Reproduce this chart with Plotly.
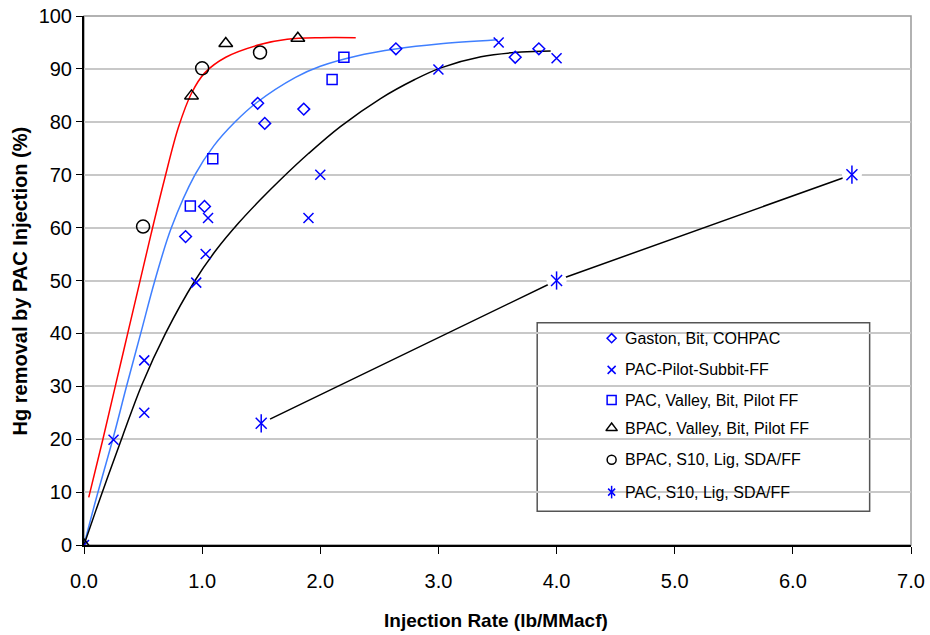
import plotly.graph_objects as go

# measured points
gaston_x = [0.86, 1.02, 1.47, 1.53, 1.86, 2.64, 3.65, 3.85]
gaston_y = [58.3, 64.0, 83.5, 79.7, 82.4, 93.8, 92.2, 93.8]

subbit_x = [0.0, 0.25, 0.51, 0.51, 0.95, 1.03, 1.05, 1.90, 2.00, 3.00, 3.51, 4.00]
subbit_y = [0.0, 19.9, 34.9, 25.0, 49.6, 55.0, 61.8, 61.8, 70.0, 89.9, 95.0, 92.0]

valley_x = [0.90, 1.09, 2.10, 2.20]
valley_y = [64.1, 73.0, 88.0, 92.2]

bpac_valley_x = [0.0, 0.91, 1.20, 1.81]
bpac_valley_y = [0.0, 84.9, 94.8, 95.8]

bpac_s10_x = [0.50, 1.00, 1.49]
bpac_s10_y = [60.2, 90.1, 93.1]

pac_s10_x = [1.5, 4.0, 6.5]
pac_s10_y = [23.0, 50.0, 70.0]

# trend lines
red_x = [0.04, 0.16, 0.27, 0.37, 0.47, 0.57, 0.68, 0.80, 0.91, 1.02, 1.2, 1.49, 1.72, 2.0, 2.3]
red_y = [9.0, 20.0, 30.5, 40.0, 49.5, 59.0, 69.0, 79.0, 85.4, 89.2, 92.2, 94.6, 95.6, 95.9, 95.9]

blue_x = [0.0, 0.1, 0.25, 0.36, 0.48, 0.60, 0.74, 0.94, 1.10, 1.28, 1.46, 1.79, 2.0, 2.3, 2.65, 3.0, 3.5]
blue_y = [0.0, 8.5, 20.5, 30.0, 40.0, 50.0, 60.0, 70.0, 75.5, 80.0, 83.6, 88.4, 90.5, 92.4, 93.8, 94.7, 95.5]

black_x = [0.0, 0.1, 0.2, 0.33, 0.49, 0.69, 0.94, 1.12, 1.31, 1.49, 1.66, 1.9, 2.17, 2.51, 2.8, 3.02, 3.36, 3.7, 3.95]
black_y = [0.0, 6.5, 12.8, 20.8, 30.3, 40.0, 50.0, 55.8, 60.9, 65.2, 69.0, 74.0, 79.1, 84.4, 88.0, 90.2, 92.3, 93.2, 93.4]

legend_names = ["Gaston, Bit, COHPAC", "PAC-Pilot-Subbit-FF", "PAC, Valley, Bit, Pilot FF",
                "BPAC, Valley, Bit, Pilot FF", "BPAC, S10, Lig, SDA/FF", "PAC, S10, Lig, SDA/FF"]

BLUE = "#0000FF"
fig = go.Figure()

fig.add_trace(go.Scatter(x=red_x, y=red_y, mode="lines", line=dict(color="#FF0000", width=1.5, shape="spline"),
                         hoverinfo="skip"))
fig.add_trace(go.Scatter(x=blue_x, y=blue_y, mode="lines", line=dict(color="#3F7FFF", width=1.5, shape="spline"),
                         hoverinfo="skip"))
fig.add_trace(go.Scatter(x=black_x, y=black_y, mode="lines", line=dict(color="black", width=1.5, shape="spline"),
                         hoverinfo="skip"))
fig.add_trace(go.Scatter(x=pac_s10_x, y=pac_s10_y, mode="lines", line=dict(color="black", width=1.5),
                         hoverinfo="skip"))
# white pads so the connecting line stops short of the markers
fig.add_trace(go.Scatter(x=pac_s10_x, y=pac_s10_y, mode="markers",
                         marker=dict(symbol="circle", size=20, color="white", line=dict(width=0)),
                         hoverinfo="skip"))

fig.add_trace(go.Scatter(x=gaston_x, y=gaston_y, mode="markers", name=legend_names[0],
                         marker=dict(symbol="diamond-open", size=9, color=BLUE, line=dict(width=1.5))))
fig.add_trace(go.Scatter(x=subbit_x, y=subbit_y, mode="markers", name=legend_names[1],
                         marker=dict(symbol="x-thin-open", size=10, color=BLUE, line=dict(width=1.5, color=BLUE))))
fig.add_trace(go.Scatter(x=valley_x, y=valley_y, mode="markers", name=legend_names[2],
                         marker=dict(symbol="square-open", size=10, color=BLUE, line=dict(width=1.5))))
fig.add_trace(go.Scatter(x=bpac_valley_x, y=bpac_valley_y, mode="markers", name=legend_names[3],
                         marker=dict(symbol="triangle-up-open", size=12, color="black", line=dict(width=1.5))))
fig.add_trace(go.Scatter(x=bpac_s10_x, y=bpac_s10_y, mode="markers", name=legend_names[4],
                         marker=dict(symbol="circle-open", size=13, color="black", line=dict(width=1.5))))
fig.add_trace(go.Scatter(x=pac_s10_x, y=pac_s10_y, mode="markers", name=legend_names[5],
                         marker=dict(symbol="x-thin-open", size=11, color=BLUE, line=dict(width=1.5, color=BLUE))))
fig.add_trace(go.Scatter(x=pac_s10_x, y=pac_s10_y, mode="markers", hoverinfo="skip",
                         marker=dict(symbol="line-ns-open", size=13, color=BLUE, line=dict(width=1.5, color=BLUE))))

# hand-drawn legend on an overlay axis spanning the plot area
leg_mx = 0.638
leg_y = [0.391, 0.331, 0.274, 0.221, 0.161, 0.100]
leg_styles = [("diamond-open", 7, BLUE), ("x-thin-open", 8, BLUE), ("square-open", 9, BLUE),
              ("triangle-up-open", 10, "black"), ("circle-open", 9, "black"), ("x-thin-open", 7, BLUE)]
for (sym, sz, col), ly in zip(leg_styles, leg_y):
    fig.add_trace(go.Scatter(x=[leg_mx], y=[ly], xaxis="x2", yaxis="y2", mode="markers", hoverinfo="skip",
                             marker=dict(symbol=sym, size=sz, color=col, line=dict(width=1.5, color=col))))
fig.add_trace(go.Scatter(x=[leg_mx], y=[leg_y[5]], xaxis="x2", yaxis="y2", mode="markers", hoverinfo="skip",
                         marker=dict(symbol="line-ns-open", size=9, color=BLUE, line=dict(width=1.5, color=BLUE))))

annotations = [dict(x=0.652, y=ly, xref="paper", yref="paper", text=name, showarrow=False,
                    xanchor="left", yanchor="middle", font=dict(size=16, color="black"))
               for name, ly in zip(legend_names, leg_y)]
annotations.append(dict(x=-0.0774, y=0.5, xref="paper", yref="paper", text="<b>Hg removal by PAC Injection (%)</b>",
                        textangle=-90, showarrow=False, xanchor="center", yanchor="middle",
                        font=dict(size=20, color="black")))
annotations.append(dict(x=0.498, y=-0.1418, xref="paper", yref="paper", text="<b>Injection Rate (lb/MMacf)</b>",
                        showarrow=False, xanchor="center", yanchor="middle", font=dict(size=19, color="black")))

fig.update_layout(
    width=930, height=635,
    margin=dict(l=84, r=19, t=16, b=90),
    plot_bgcolor="white", paper_bgcolor="white",
    font=dict(family="Liberation Sans, Arial", color="black"),
    showlegend=False,
    annotations=annotations,
    xaxis2=dict(overlaying="x", range=[0, 1], visible=False, fixedrange=True),
    yaxis2=dict(overlaying="y", range=[0, 1], visible=False, fixedrange=True),
    shapes=[
        dict(type="rect", xref="paper", yref="paper", x0=0, x1=1, y0=0, y1=1,
             line=dict(color="#999999", width=1.5), layer="below"),
        dict(type="rect", xref="paper", yref="paper", x0=0.548, x1=0.950, y0=0.064, y1=0.42,
             line=dict(color="#555555", width=1.5), fillcolor="white", layer="below"),
    ],
)
fig.update_xaxes(range=[0, 7], dtick=1, tickformat=".1f", showgrid=False, zeroline=False, automargin=False,
                 showline=True, linecolor="black", linewidth=2,
                 ticks="outside", ticklen=7, tickcolor="black", ticklabelstandoff=10,
                 tickfont=dict(size=20), selector=dict(overlaying=None))
fig.update_yaxes(range=[0, 100], dtick=10, showgrid=True, gridcolor="#C8C8C8", gridwidth=1.5, zeroline=False,
                 automargin=False, showline=True, linecolor="black", linewidth=2,
                 ticks="outside", ticklen=6, tickcolor="black",
                 tickfont=dict(size=20), selector=dict(overlaying=None))

# drop the default page margin so the 930x635 figure fills the window
fig.write_html("out.html", config={"displayModeBar": False},
               post_script="document.body.style.margin='0';document.body.style.overflow='hidden';")
